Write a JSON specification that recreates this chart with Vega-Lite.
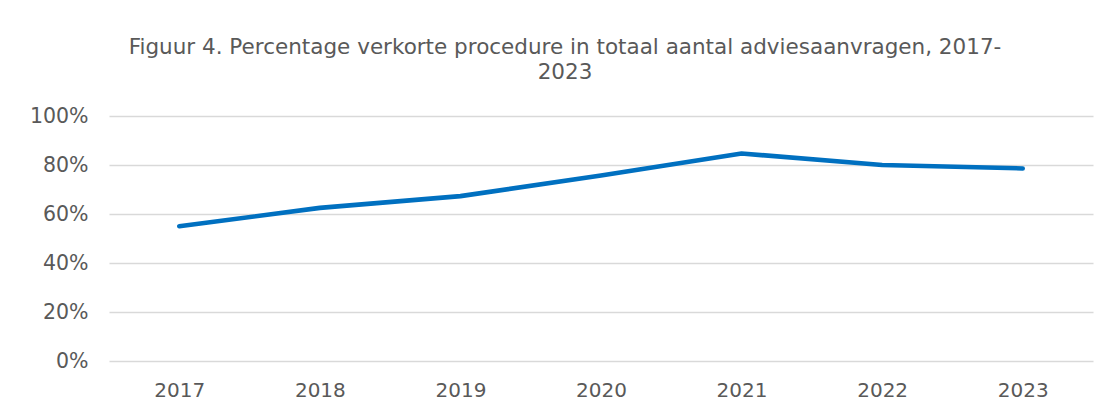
{
  "$schema": "https://vega.github.io/schema/vega-lite/v6.json",
  "width": 984,
  "height": 245,
  "autosize": {"type": "none"},
  "padding": {"left": 109, "top": 116, "right": 14, "bottom": 51},
  "background": "white",
  "title": {
    "text": ["Figuur 4. Percentage verkorte procedure in totaal aantal adviesaanvragen, 2017-", "2023"],
    "anchor": "middle",
    "dx": -36,
    "offset": 23,
    "font": "DejaVu Sans",
    "fontSize": 21.5,
    "fontWeight": "normal",
    "color": "#595959",
    "lineHeight": 25
  },
  "data": {
    "values": [
      {"jaar": "2017", "pct": 0.55},
      {"jaar": "2018", "pct": 0.625},
      {"jaar": "2019", "pct": 0.673},
      {"jaar": "2020", "pct": 0.757},
      {"jaar": "2021", "pct": 0.847},
      {"jaar": "2022", "pct": 0.80},
      {"jaar": "2023", "pct": 0.786}
    ]
  },
  "mark": {"type": "line", "color": "#0070C0", "strokeWidth": 4.6, "strokeCap": "round", "strokeJoin": "round"},
  "encoding": {
    "x": {
      "field": "jaar",
      "type": "ordinal",
      "scale": {"type": "point", "padding": 0.5},
      "axis": {
        "title": null,
        "labelAngle": 0,
        "domain": false,
        "ticks": false,
        "grid": false,
        "labelFont": "DejaVu Sans",
        "labelFontSize": 20,
        "labelColor": "#595959",
        "labelPadding": 19
      }
    },
    "y": {
      "field": "pct",
      "type": "quantitative",
      "scale": {"domain": [0, 1], "nice": false},
      "axis": {
        "title": null,
        "values": [0, 0.2, 0.4, 0.6, 0.8, 1],
        "format": ".0%",
        "domain": false,
        "ticks": false,
        "grid": true,
        "gridColor": "#d9d9d9",
        "gridWidth": 1.3,
        "labelFont": "DejaVu Sans",
        "labelFontSize": 20.5,
        "labelColor": "#595959",
        "labelPadding": 21
      }
    }
  },
  "config": {"view": {"stroke": null}}
}
